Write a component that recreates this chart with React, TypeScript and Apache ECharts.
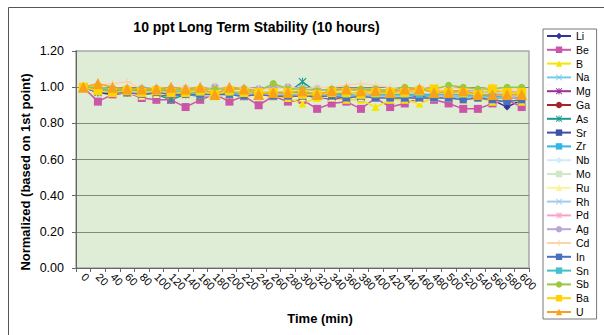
import React, { useEffect, useRef } from "react";
import * as echarts from "echarts";

const times = ["0","20","40","60","80","100","120","140","160","180","200","220","240","260","280","300","320","340","360","380","400","420","440","460","480","500","520","540","560","580","600"];
const yTicks = [0, 0.2, 0.4, 0.6, 0.8, 1.0, 1.2];

const Li = [1.00,0.97,0.96,0.97,0.96,0.96,0.95,0.96,0.96,0.95,0.96,0.95,0.95,0.95,0.96,0.95,0.94,0.95,0.95,0.94,0.95,0.94,0.95,0.94,0.95,0.95,0.94,0.94,0.93,0.89,0.93];
const Be = [1.00,0.92,0.96,0.97,0.94,0.93,0.93,0.89,0.93,0.96,0.92,0.95,0.90,0.95,0.92,0.93,0.88,0.91,0.92,0.88,0.94,0.89,0.91,0.94,0.93,0.91,0.88,0.88,0.91,0.93,0.89];
const B = [1.00,0.98,0.97,0.97,0.96,0.97,0.96,0.97,0.96,0.95,0.96,0.96,0.95,0.95,0.94,0.91,0.94,0.94,0.93,0.93,0.89,0.93,0.93,0.91,0.94,0.94,0.93,0.94,0.92,0.93,0.92];
const Na = [1.00,0.98,0.97,0.98,0.97,0.97,0.96,0.96,0.97,0.96,0.96,0.95,0.96,0.95,0.95,0.95,0.96,0.95,0.94,0.95,0.94,0.95,0.94,0.94,0.95,0.94,0.94,0.95,0.93,0.94,0.94];
const Mg = [1.00,0.97,0.98,0.97,0.97,0.96,0.96,0.97,0.96,0.96,0.97,0.96,0.96,0.95,0.96,0.95,0.95,0.93,0.95,0.95,0.94,0.95,0.95,0.93,0.95,0.94,0.95,0.94,0.95,0.94,0.94];
const Ga = [1.00,0.99,0.98,0.98,0.98,0.97,0.98,0.97,0.98,0.97,0.97,0.97,0.97,0.96,0.97,0.96,0.97,0.96,0.96,0.97,0.96,0.96,0.96,0.97,0.96,0.96,0.96,0.96,0.96,0.95,0.96];
const As = [1.00,0.97,0.98,0.97,0.96,0.96,0.93,0.96,0.95,0.96,0.96,0.95,0.96,0.96,0.97,1.03,0.97,0.96,0.96,0.95,0.95,0.95,0.94,0.95,0.95,0.94,0.95,0.95,0.94,0.95,0.94];
const Sr = [1.00,0.98,0.97,0.97,0.97,0.97,0.96,0.96,0.96,0.96,0.96,0.96,0.95,0.95,0.96,0.95,0.95,0.95,0.95,0.94,0.95,0.94,0.94,0.95,0.94,0.94,0.94,0.94,0.94,0.93,0.94];
const Zr = [1.00,0.98,0.98,0.97,0.98,0.97,0.97,0.97,0.97,0.96,0.97,0.96,0.96,0.96,0.96,0.96,0.96,0.95,0.96,0.95,0.96,0.95,0.95,0.96,0.95,0.95,0.95,0.95,0.95,0.95,0.95];
const Nb = [1.00,0.99,0.99,0.98,0.99,0.98,0.98,0.98,0.98,0.98,0.98,0.97,0.98,0.97,0.98,0.97,0.97,0.97,0.97,0.97,0.97,0.97,0.96,0.97,0.97,0.96,0.97,0.96,0.97,0.96,0.96];
const Mo = [1.00,0.99,0.98,0.98,0.98,0.98,0.97,0.98,0.97,0.97,0.98,0.97,0.97,0.97,0.97,0.97,0.96,0.97,0.97,0.96,0.97,0.96,0.96,0.97,0.96,0.96,0.96,0.96,0.96,0.96,0.95];
const Ru = [1.00,0.98,0.97,0.97,0.95,0.96,0.96,0.96,0.96,0.95,0.96,0.95,0.95,0.95,0.95,0.94,0.95,0.94,0.95,0.94,0.94,0.94,0.94,0.93,0.94,0.94,0.93,0.94,0.93,0.93,0.93];
const Rh = [1.00,0.98,0.98,0.97,0.97,0.97,0.97,0.96,0.97,0.96,0.96,0.96,0.96,0.96,0.96,0.95,0.96,0.95,0.95,0.95,0.95,0.95,0.95,0.94,0.95,0.95,0.94,0.95,0.94,0.94,0.94];
const Pd = [1.00,0.99,0.98,0.99,0.98,0.98,0.98,0.97,0.98,0.97,0.97,0.97,0.97,0.97,0.97,0.96,0.97,0.96,0.97,0.96,0.96,0.96,0.96,0.96,0.96,0.95,0.96,0.95,0.96,0.95,0.95];
const Ag = [1.00,1.00,0.99,0.99,0.99,0.99,0.99,0.99,0.99,1.00,0.99,0.99,0.99,1.00,1.00,0.99,0.99,0.98,0.99,0.98,0.99,0.98,0.98,0.99,0.98,0.98,0.98,0.98,0.97,0.98,0.97];
const Cd = [1.00,1.01,1.02,1.03,0.99,1.00,0.99,1.00,0.99,1.00,0.99,1.00,0.99,0.99,1.00,0.99,1.00,1.00,1.01,1.02,1.01,1.00,0.99,1.00,0.99,1.00,0.99,0.99,1.00,0.99,0.99];
const In = [1.00,0.98,0.97,0.97,0.96,0.97,0.96,0.96,0.96,0.96,0.96,0.95,0.96,0.95,0.95,0.95,0.95,0.95,0.94,0.95,0.94,0.94,0.94,0.94,0.94,0.94,0.93,0.94,0.93,0.92,0.93];
const Sn = [1.00,0.99,0.98,0.98,0.98,0.98,0.98,0.97,0.97,0.97,0.97,0.97,0.97,0.97,0.97,0.97,0.96,0.97,0.96,0.97,0.96,0.96,0.96,0.96,0.96,0.96,0.96,0.95,0.96,0.96,0.96];
const Sb = [1.00,1.00,0.99,0.99,0.99,0.99,0.99,0.98,0.99,0.99,0.99,0.99,0.98,1.02,0.99,0.99,0.98,0.99,0.99,0.99,0.99,0.98,1.00,0.99,0.99,1.01,1.00,0.99,0.99,1.00,1.00];
const Ba = [1.00,0.98,0.97,0.98,0.97,0.98,0.97,0.97,0.98,0.96,0.98,0.97,0.97,0.97,0.97,0.96,0.96,0.97,0.97,0.96,0.97,0.97,0.97,0.98,0.99,0.97,0.97,0.96,0.99,0.97,0.97];
const U = [1.00,1.02,1.00,0.99,0.99,0.99,1.00,0.99,1.00,0.96,1.00,0.99,0.96,0.97,0.97,0.98,0.96,0.98,0.99,0.98,0.98,0.97,0.99,0.99,0.97,0.97,0.98,0.96,0.96,0.96,0.96];

const SYM_X = "path://M1,0L5,4L9,0L10,1L6,5L10,9L9,10L5,6L1,10L0,9L4,5L0,1Z";
const SYM_PLUS = "path://M4.2,0H5.8V4.2H10V5.8H5.8V10H4.2V5.8H0V4.2H4.2Z";
const SYM_STAR = "path://M1,0L5,4L9,0L10,1L6,5L10,9L9,10L5,6L1,10L0,9L4,5L0,1ZM4.3,0H5.7V10H4.3Z";
const SYM_DASH = "path://M0,3.4H10V6.6H0Z";

const elements: [string, number[], string, string, number][] = [
  ["Li", Li, "#333399", "diamond", 7],
  ["Be", Be, "#cc55a8", "rect", 8],
  ["B", B, "#f3e600", "triangle", 8],
  ["Na", Na, "#6fcfe8", SYM_X, 6],
  ["Mg", Mg, "#993399", SYM_STAR, 6],
  ["Ga", Ga, "#a3252a", "circle", 7],
  ["As", As, "#1a9a90", SYM_STAR, 8],
  ["Sr", Sr, "#3f51a3", SYM_DASH, 7],
  ["Zr", Zr, "#33b5e5", SYM_DASH, 7],
  ["Nb", Nb, "#d0ecf8", "diamond", 7],
  ["Mo", Mo, "#cfe8c5", "rect", 7],
  ["Ru", Ru, "#faf39a", "triangle", 7],
  ["Rh", Rh, "#a0cbf0", SYM_X, 6],
  ["Pd", Pd, "#f7a3c8", SYM_STAR, 6],
  ["Ag", Ag, "#bba4d8", "circle", 8],
  ["Cd", Cd, "#fcd3a8", SYM_PLUS, 8],
  ["In", In, "#4a6fc0", SYM_DASH, 7],
  ["Sn", Sn, "#42c1c8", SYM_DASH, 7],
  ["Sb", Sb, "#9bc83c", "circle", 7],
  ["Ba", Ba, "#ffd200", "rect", 9],
  ["U", U, "#f7a21b", "triangle", 11],
];

const FONT = "'Liberation Sans', Arial, sans-serif";

export default function App() {
  const ref = useRef<HTMLDivElement>(null);
  useEffect(() => {
    if (!ref.current) return;
    const chart = echarts.init(ref.current, null, { renderer: "svg" });
    const series = elements.map(([name, data, color, symbol, size]) => ({
      name,
      type: "line",
      data,
      symbol,
      symbolSize: size,
      showAllSymbol: true,
      color,
      lineStyle: { width: 1.5, color },
      itemStyle: { color },
      emphasis: { disabled: true },
    }));
    chart.setOption({
      animation: false,
      backgroundColor: "#ffffff",
      textStyle: { fontFamily: FONT },
      grid: {
        left: 76,
        top: 51,
        width: 453,
        height: 217,
        show: true,
        backgroundColor: "#dfedd6",
        borderColor: "#a8a8a8",
        borderWidth: 1.5,
      },
      legend: {
        orient: "vertical",
        left: 543,
        top: 29,
        padding: [1, 6, 1, 3],
        itemWidth: 24,
        itemHeight: 8,
        itemGap: 1.8,
        borderColor: "#777",
        borderWidth: 1,
        backgroundColor: "#fff",
        textStyle: { fontSize: 10.5, color: "#000", fontFamily: FONT, lineHeight: 12 },
        data: elements.map((e) => e[0]),
      },
      xAxis: {
        type: "category",
        data: times,
        boundaryGap: true,
        axisLine: { lineStyle: { color: "#666", width: 1 } },
        axisTick: { show: true, length: 4, lineStyle: { color: "#666" } },
        axisLabel: { rotate: -45, interval: 0, fontSize: 11, color: "#000", margin: 7, fontFamily: FONT },
        splitLine: { show: false },
      },
      yAxis: {
        type: "value",
        min: yTicks[0],
        max: yTicks[yTicks.length - 1],
        interval: 0.2,
        axisLine: { show: true, lineStyle: { color: "#666", width: 1 } },
        axisTick: { show: true, length: 4, lineStyle: { color: "#666" } },
        axisLabel: { fontSize: 12.5, color: "#000", margin: 12, fontFamily: FONT, formatter: (v: number) => v.toFixed(2) },
        splitLine: { show: true, showMaxLine: false, lineStyle: { color: "#7f8a7e", width: 1 } },
      },
      graphic: [
        {
          type: "rect",
          shape: { x: 8.5, y: 7.5, width: 700, height: 400 },
          style: { fill: "none", stroke: "#555", lineWidth: 1 },
          silent: true,
          z: -1,
        },
        {
          type: "text",
          x: 256.5,
          y: 27,
          style: { text: "10 ppt Long Term Stability (10 hours)", font: `bold 14px ${FONT}`, fill: "#000", align: "center", verticalAlign: "middle" },
        },
        {
          type: "text",
          x: 320,
          y: 318,
          style: { text: "Time (min)", font: `bold 13px ${FONT}`, fill: "#000", align: "center", verticalAlign: "middle" },
        },
        {
          type: "text",
          x: 25,
          y: 172,
          rotation: Math.PI / 2,
          style: { text: "Normalized (based on 1st point)", font: `bold 13px ${FONT}`, fill: "#000", align: "center", verticalAlign: "middle" },
        },
      ],
      series,
    });
    return () => chart.dispose();
  }, []);
  return <div ref={ref} style={{ position: "fixed", left: 0, top: 0, width: 604, height: 335, background: "#fff" }} />;
}
